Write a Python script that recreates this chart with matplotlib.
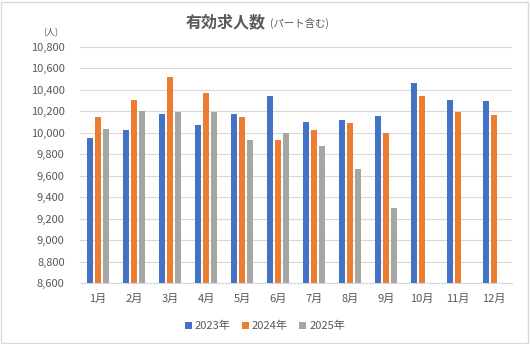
import matplotlib
matplotlib.use("Agg")
import matplotlib.pyplot as plt
import numpy as np
from matplotlib.patches import Rectangle

plt.rcParams['font.family'] = ['Noto Sans CJK JP', 'DejaVu Sans']

months = ["1月", "2月", "3月", "4月", "5月", "6月", "7月", "8月", "9月", "10月", "11月", "12月"]
series_names = ["2023年", "2024年", "2025年"]
v2023 = [9950, 10030, 10180, 10070, 10180, 10340, 10105, 10115, 10160, 10460, 10310, 10295]
v2024 = [10145, 10305, 10525, 10370, 10145, 9930, 10030, 10095, 10000, 10340, 10190, 10170]
v2025 = [10040, 10200, 10190, 10190, 9935, 10000, 9880, 9665, 9300, np.nan, np.nan, np.nan]
colors = ["#4472C4", "#ED7D31", "#A5A5A5"]
yticks = list(range(8600, 10801, 200))

text_color = "#595959"
grid_color = "#D9D9D9"

fig = plt.figure(figsize=(5.30, 3.44), dpi=100)
ax = fig.add_axes([80 / 530, 1 - 283 / 344, 432 / 530, 236 / 344])

x = np.arange(len(months))
bw = 0.18
step = 0.22
for i, (vals, c, name) in enumerate(zip([v2023, v2024, v2025], colors, series_names)):
    ax.bar(x + (i - 1) * step, np.array(vals, dtype=float) - 8600, bottom=8600,
           width=bw, color=c, label=name, zorder=3)

ax.set_xlim(-0.5, len(months) - 0.5)
ax.set_ylim(8600, 10800)
ax.set_yticks(yticks)
ax.set_yticklabels([f"{v:,}" for v in yticks])
ax.set_xticks(x)
ax.set_xticklabels(months)
ax.yaxis.grid(True, color=grid_color, linewidth=0.8, zorder=0)
ax.set_axisbelow(True)
for s in ["top", "right", "left"]:
    ax.spines[s].set_visible(False)
ax.spines["bottom"].set_color(grid_color)
ax.spines["bottom"].set_linewidth(0.8)
ax.tick_params(axis="both", length=0, labelsize=8, colors=text_color)
ax.tick_params(axis="y", pad=11)
ax.tick_params(axis="x", pad=8)

# Title: bold main part followed by a smaller note
fig.text(266 / 530, 1 - 22 / 344, "有効求人数", ha="right", va="center",
         fontsize=11.5, fontweight="bold", color=text_color)
fig.text(270 / 530, 1 - 23 / 344, "(パート含む)", ha="left", va="center",
         fontsize=7.5, color=text_color)
fig.text(51 / 530, 1 - 33 / 344, "(人)", ha="center", va="center",
         fontsize=6.5, color=text_color)

leg = fig.legend(loc="center", bbox_to_anchor=(265 / 530, 1 - 326 / 344), ncol=3,
                 frameon=False, fontsize=8, handlelength=0.6, handleheight=0.6,
                 handletextpad=0.3, columnspacing=1.0)
for t in leg.get_texts():
    t.set_color(text_color)

fig.patches.append(Rectangle((1 / 530, 1 / 344), 527 / 530, 341 / 344, transform=fig.transFigure,
                             fill=False, edgecolor=grid_color, linewidth=1.0))

fig.savefig("out.png", dpi=100, facecolor="white")
